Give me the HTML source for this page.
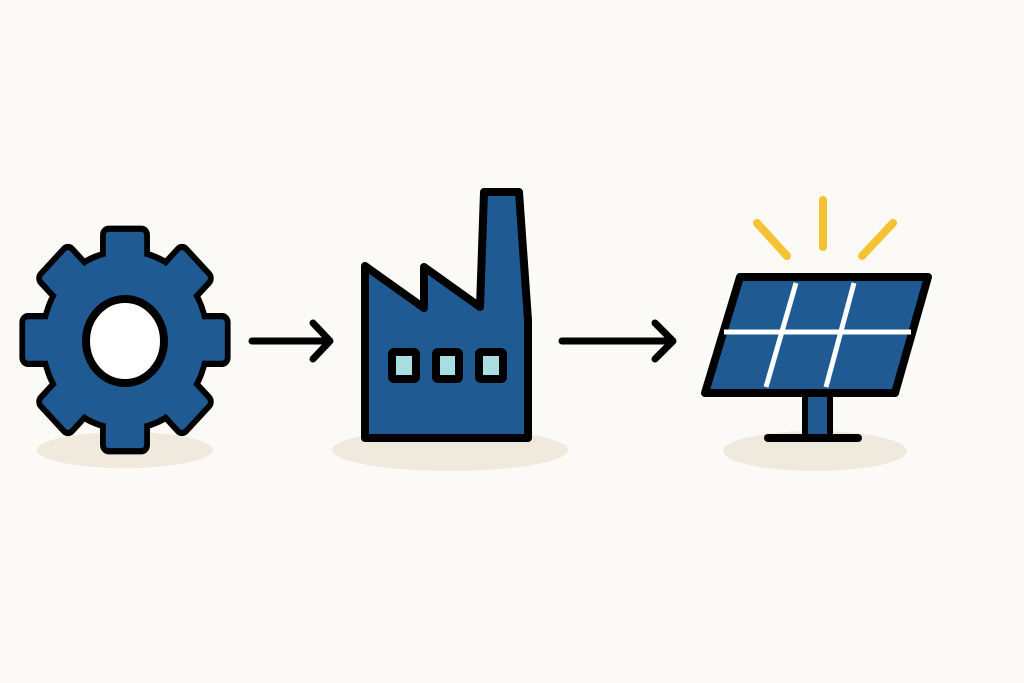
<!DOCTYPE html>
<html><head><meta charset="utf-8"><style>
html,body{margin:0;padding:0;background:#fbfaf7;}
svg{display:block;}
</style></head><body>
<svg width="1024" height="683" viewBox="0 0 1024 683" xmlns="http://www.w3.org/2000/svg">
<rect width="1024" height="683" fill="#fbfaf7"/>
<ellipse cx="125" cy="450" rx="88" ry="18" fill="#efeadd"/>
<ellipse cx="450" cy="450" rx="118" ry="21" fill="#efeadd"/>
<ellipse cx="815" cy="451" rx="92" ry="20" fill="#efeadd"/>

<defs>
<g id="gearshape">
<circle cx="0" cy="0" r="83"/>
<rect x="-20" y="-104" width="40" height="60" rx="3"/>
<rect x="-20" y="-104" width="40" height="60" rx="3" transform="rotate(45)"/>
<rect x="-20" y="-104" width="40" height="60" rx="3" transform="rotate(90)"/>
<rect x="-20" y="-104" width="40" height="60" rx="3" transform="rotate(135)"/>
<rect x="-20" y="-104" width="40" height="60" rx="3" transform="rotate(180)"/>
<rect x="-20" y="-104" width="40" height="60" rx="3" transform="rotate(225)"/>
<rect x="-20" y="-104" width="40" height="60" rx="3" transform="rotate(270)"/>
<rect x="-20" y="-104" width="40" height="60" rx="3" transform="rotate(315)"/>
</g>
</defs>
<g transform="translate(125,340) scale(0.96,1.04)">
<use href="#gearshape" fill="#000" stroke="#000" stroke-width="12" stroke-linejoin="round"/>
<use href="#gearshape" fill="#1f5a93"/>
</g>
<ellipse cx="125" cy="341" rx="39" ry="42" fill="#fff" stroke="#000" stroke-width="8"/>

<g stroke="#000" stroke-width="7" stroke-linecap="round" stroke-linejoin="round" fill="none">
<path d="M252 341 H329 M313 323 L330 341 L313 359"/>
<path d="M562 341 H672 M655 323 L673 341 L655 359"/>
</g>

<path d="M365 438 V266 L424 308 V267 L480 307 L484 192 H519 L528 320 V438 Z" fill="#1f5a93" stroke="#000" stroke-width="8" stroke-linejoin="round"/>
<g fill="#a9dde0" stroke="#000" stroke-width="8" stroke-linejoin="round">
<rect x="392" y="352" width="24" height="27" rx="2"/>
<rect x="436" y="352" width="23" height="27" rx="2"/>
<rect x="479" y="352" width="24" height="27" rx="2"/>
</g>

<g stroke="#f4c233" stroke-width="8" stroke-linecap="round">
<line x1="823" y1="200" x2="823" y2="247"/>
<line x1="757" y1="223" x2="787" y2="256"/>
<line x1="893" y1="223" x2="862" y2="256"/>
</g>
<rect x="805" y="392" width="25" height="46" fill="#1f5a93" stroke="#000" stroke-width="6"/>
<line x1="768" y1="438" x2="858" y2="438" stroke="#000" stroke-width="8" stroke-linecap="round"/>
<path d="M740 277 H928 L895 393 H705 Z" fill="#1f5a93" stroke="#000" stroke-width="8" stroke-linejoin="round"/>
<g stroke="#fff" stroke-width="5">
<line x1="724" y1="332" x2="911" y2="332"/>
<line x1="796" y1="283" x2="766" y2="387"/>
<line x1="854" y1="283" x2="826" y2="387"/>
</g>
</svg>
</body></html>
